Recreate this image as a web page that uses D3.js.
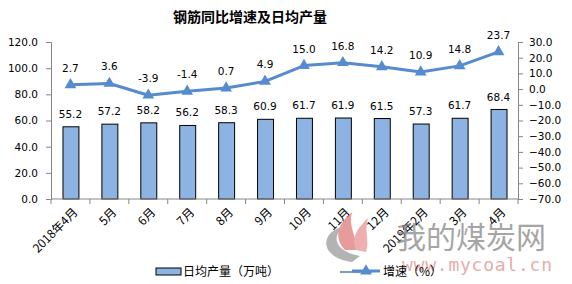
<!DOCTYPE html>
<html>
<head>
<meta charset="utf-8">
<script src="https://cdn.jsdelivr.net/npm/d3@7"></script>
<style>
  body { margin: 0; background: #fff; }
  #chart { width: 572px; height: 284px; }
</style>
</head>
<body>
<div id="chart"></div>
<script>
// chart data
const months = ["2018年4月", "5月", "6月", "7月", "8月", "9月", "10月", "11月", "12月", "2019年2月", "3月", "4月"];
const dailyOutput = [55.2, 57.2, 58.2, 56.2, 58.3, 60.9, 61.7, 61.9, 61.5, 57.3, 61.7, 68.4];
const growthRate = [2.7, 3.6, -3.9, -1.4, 0.7, 4.9, 15.0, 16.8, 14.2, 10.9, 14.8, 23.7];
const leftTicks = [0, 20, 40, 60, 80, 100, 120];
const rightTicks = [30, 20, 10, 0, -10, -20, -30, -40, -50, -60, -70];

const W = 572, H = 284;
const plot = {left: 51, right: 518, top: 42, bottom: 199};
const numFont = "'DejaVu Sans', Verdana, sans-serif";
const cjkFont = "'Noto Sans CJK SC', sans-serif";
const barColor = "#8DB3E2";
const lineColor = "#568BD0";
const axisColor = "#868686";

const svg = d3.select("#chart").append("svg")
    .attr("width", W)
    .attr("height", H);

// Scales
const x = d3.scaleBand()
    .domain(months)
    .range([plot.left, plot.right])
    .paddingInner(0.59)
    .paddingOuter(0.295);

const xCenter = d => x(d) + x.bandwidth() / 2;
const step = (plot.right - plot.left) / months.length;

const yLeft = d3.scaleLinear().domain([0, 120]).range([plot.bottom, plot.top]);
const yRight = d3.scaleLinear().domain([-70, 30]).range([plot.bottom, plot.top]);

// Title
svg.append("text")
    .attr("x", 250)
    .attr("y", 22)
    .attr("text-anchor", "middle")
    .style("font-family", cjkFont)
    .style("font-size", "14px")
    .style("font-weight", "bold")
    .style("fill", "#000")
    .text("钢筋同比增速及日均产量");

// Bars
svg.append("g").selectAll("rect")
    .data(dailyOutput)
    .join("rect")
    .attr("x", (d, i) => x(months[i]) + 0.5)
    .attr("y", d => yLeft(d))
    .attr("width", x.bandwidth())
    .attr("height", d => yLeft(0) - yLeft(d))
    .attr("fill", barColor)
    .attr("stroke", "#000")
    .attr("stroke-width", 1);

// Bar labels
svg.append("g").selectAll("text")
    .data(dailyOutput)
    .join("text")
    .attr("x", (d, i) => xCenter(months[i]))
    .attr("y", d => yLeft(d) - 9)
    .attr("text-anchor", "middle")
    .style("font-family", numFont)
    .style("font-size", "10.5px")
    .style("fill", "#000")
    .text(d => d.toFixed(1));

// Left axis
const leftAxis = svg.append("g")
    .attr("transform", `translate(${plot.left},0)`)
    .call(d3.axisLeft(yLeft).tickValues(leftTicks).tickSize(5).tickPadding(8).tickFormat(d3.format(".1f")));

// Right axis
const rightAxis = svg.append("g")
    .attr("transform", `translate(${plot.right},0)`)
    .call(d3.axisRight(yRight).tickValues(rightTicks).tickSize(5).tickPadding(6).tickFormat(d3.format(".1f")));

// X axis: ticks at category boundaries
const xAxis = svg.append("g")
    .attr("transform", `translate(0,${plot.bottom})`);
xAxis.append("line")
    .attr("x1", plot.left).attr("x2", plot.right)
    .attr("stroke", axisColor);
xAxis.selectAll("line.tick")
    .data(d3.range(months.length + 1))
    .join("line")
    .attr("class", "tick")
    .attr("x1", i => plot.left + i * step)
    .attr("x2", i => plot.left + i * step)
    .attr("y1", 0).attr("y2", 5)
    .attr("stroke", axisColor);
xAxis.selectAll("text")
    .data(months)
    .join("text")
    .attr("transform", d => `translate(${xCenter(d) + 5},${11}) rotate(-45)`)
    .attr("text-anchor", "end")
    .attr("dy", "0.35em")
    .style("font-family", cjkFont)
    .style("font-size", "12px")
    .style("fill", "#000")
    .text(d => d);

[leftAxis, rightAxis].forEach(a => {
    a.select(".domain").attr("stroke", axisColor);
    a.selectAll(".tick line").attr("stroke", axisColor);
    a.selectAll(".tick text")
        .style("font-family", numFont)
        .style("font-size", "10.5px")
        .style("fill", "#000");
});

// Line series
const line = d3.line()
    .x((d, i) => xCenter(months[i]))
    .y(d => yRight(d));

svg.append("path")
    .datum(growthRate)
    .attr("fill", "none")
    .attr("stroke", lineColor)
    .attr("stroke-width", 3)
    .attr("stroke-linejoin", "round")
    .attr("d", line);

const tri = d3.symbol().type(d3.symbolTriangle).size(60);
svg.append("g").selectAll("path")
    .data(growthRate)
    .join("path")
    .attr("transform", (d, i) => `translate(${xCenter(months[i])},${yRight(d)})`)
    .attr("d", tri)
    .attr("fill", lineColor);

svg.append("g").selectAll("text")
    .data(growthRate)
    .join("text")
    .attr("x", (d, i) => xCenter(months[i]))
    .attr("y", d => yRight(d) - 13)
    .attr("text-anchor", "middle")
    .style("font-family", numFont)
    .style("font-size", "10.5px")
    .style("fill", "#000")
    .text(d => d.toFixed(1));

// Watermark
const wm = svg.append("g").attr("opacity", 0.75);
wm.append("path")
    .attr("d", "M352,262 C320,258 318,232 345,226 C330,236 335,252 360,256 Z")
    .attr("fill", "#9a9a9a");
wm.append("path")
    .attr("d", "M345,250 C332,236 340,222 352,212 C348,226 356,236 358,250 Z")
    .attr("fill", "#e07a7a");
wm.append("path")
    .attr("d", "M356,250 C350,236 360,226 368,218 C364,232 370,240 366,252 Z")
    .attr("fill", "#e89595");
wm.append("path")
    .attr("d", "M340,272 L372,272")
    .attr("stroke", "#4a7fc1")
    .attr("stroke-width", 2);
wm.append("text")
    .attr("x", 396)
    .attr("y", 248)
    .style("font-family", cjkFont)
    .style("font-size", "30px")
    .style("fill", "#888")
    .text("我的煤炭网");
wm.append("text")
    .attr("x", 402)
    .attr("y", 271)
    .attr("textLength", 150)
    .style("font-family", "'DejaVu Sans Mono', monospace")
    .style("font-size", "18px")
    .style("fill", "#e28f8f")
    .text("www.mycoal.cn");

// Legend
const legend = svg.append("g");
legend.append("rect")
    .attr("x", 156).attr("y", 268)
    .attr("width", 25).attr("height", 7)
    .attr("fill", barColor)
    .attr("stroke", "#000");
legend.append("text")
    .attr("x", 183).attr("y", 276)
    .style("font-family", cjkFont)
    .style("font-size", "12px")
    .style("fill", "#000")
    .text("日均产量（万吨）");
legend.append("line")
    .attr("x1", 352).attr("x2", 380)
    .attr("y1", 271).attr("y2", 271)
    .attr("stroke", lineColor)
    .attr("stroke-width", 3);
legend.append("path")
    .attr("transform", "translate(366,271)")
    .attr("d", tri)
    .attr("fill", lineColor);
legend.append("text")
    .attr("x", 383).attr("y", 276)
    .style("font-family", cjkFont)
    .style("font-size", "12px")
    .style("fill", "#000")
    .text("增速（%）");
</script>
</body>
</html>
